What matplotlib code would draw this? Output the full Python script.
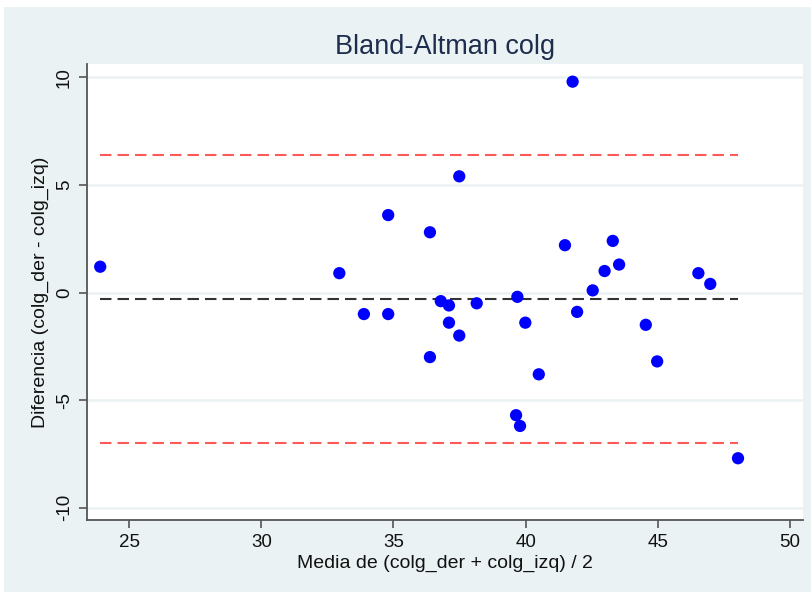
import matplotlib.pyplot as plt
from matplotlib.patches import Rectangle

# media (x) y diferencia (y) por sujeto
media = [23.9, 32.95, 34.8, 36.38, 33.88, 34.8, 36.38, 41.78, 37.49, 41.49,
         43.3, 43.54, 42.99, 42.54, 46.54, 46.99, 36.79, 37.1, 37.1, 37.49,
         38.15, 39.69, 39.99, 40.5, 39.64, 39.79, 41.95, 44.55, 44.98, 48.04]
diferencia = [1.2, 0.9, 3.6, 2.8, -1.0, -1.0, -3.0, 9.8, 5.4, 2.2,
              2.4, 1.3, 1.0, 0.1, 0.9, 0.4, -0.4, -0.6, -1.4, -2.0,
              -0.5, -0.2, -1.4, -3.8, -5.7, -6.2, -0.9, -1.5, -3.2, -7.7]
sesgo = -0.3
lim_sup = 6.39
lim_inf = -6.99
xticks = [25, 30, 35, 40, 45, 50]
yticks = [-10, -5, 0, 5, 10]

plt.rcParams['font.family'] = ['Liberation Sans Narrow', 'Liberation Sans', 'DejaVu Sans']

fig = plt.figure(figsize=(8.12, 5.96), dpi=100)
fig.patch.set_facecolor('white')
fig.patches.append(Rectangle((4 / 812, 4 / 596), 808 / 812, 585 / 596,
                             transform=fig.transFigure, facecolor='#eaf2f3',
                             edgecolor='none', zorder=-10))

ax = fig.add_axes([87 / 812, 76 / 596, 716 / 812, 456 / 596])
ax.set_facecolor('white')

ax.set_xlim(23.4, 50.5)
ax.set_ylim(-10.57, 10.62)

# lineas de referencia
xr = [min(media), max(media)]
ax.plot(xr, [lim_sup, lim_sup], color='#ff5a5a', lw=1.5, dashes=(5.5, 2.9), zorder=2)
ax.plot(xr, [lim_inf, lim_inf], color='#ff5a5a', lw=1.5, dashes=(5.5, 2.9), zorder=2)
ax.plot(xr, [sesgo, sesgo], color='#333333', lw=1.5, dashes=(5.5, 2.9), zorder=2)

ax.scatter(media, diferencia, s=78, color='#0000ff', edgecolors='none', zorder=3)

ax.set_xticks(xticks)
ax.set_yticks(yticks)
ax.set_yticklabels([str(t) for t in yticks], rotation=90, va='center')
ax.yaxis.grid(True, color='#eaf2f3', lw=1.8, zorder=0)
ax.set_axisbelow(True)

for s in ['top', 'right']:
    ax.spines[s].set_visible(False)
for s in ['left', 'bottom']:
    ax.spines[s].set_color('#555555')
    ax.spines[s].set_linewidth(1.3)
ax.tick_params(axis='both', direction='out', length=6, width=1.2, color='#555555',
               labelsize=13.5, labelcolor='#111111', pad=4)

ax.set_title('Bland-Altman colg', fontsize=19.5, color='#1e2d4d', pad=7)
ax.set_xlabel('Media de (colg_der + colg_izq) / 2', fontsize=14, color='#111111', labelpad=3)
ax.set_ylabel('Diferencia (colg_der - colg_izq)', fontsize=14, color='#111111', labelpad=5)

fig.savefig('out.png', dpi=100, facecolor=fig.get_facecolor())
